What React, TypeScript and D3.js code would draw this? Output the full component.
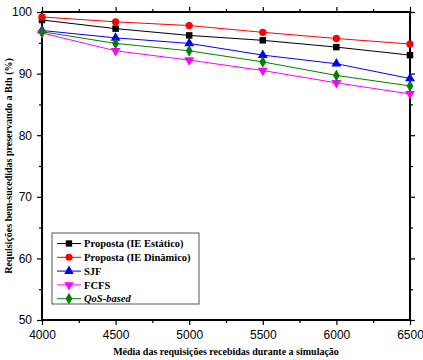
import React, { useRef, useEffect } from 'react';
import * as d3 from 'd3';

const loads = [4000, 4500, 5000, 5500, 6000, 6500];
const estatico = [98.7, 97.3, 96.2, 95.4, 94.3, 93.0];
const dinamico = [99.2, 98.4, 97.8, 96.7, 95.7, 94.8];
const sjf = [97.0, 95.8, 94.9, 93.0, 91.6, 89.2];
const fcfs = [96.6, 93.7, 92.2, 90.5, 88.5, 86.7];
const qos = [96.8, 94.9, 93.7, 91.9, 89.7, 88.0];
const xTicks = [4000, 4500, 5000, 5500, 6000, 6500];
const yTicks = [50, 60, 70, 80, 90, 100];

const series = [
    { name: 'Proposta (IE Estático)', values: estatico, color: '#000000', symbol: d3.symbolSquare, rot: 0, italic: false },
    { name: 'Proposta (IE Dinâmico)', values: dinamico, color: '#ff0000', symbol: d3.symbolCircle, rot: 0, italic: false },
    { name: 'SJF', values: sjf, color: '#0000ff', symbol: d3.symbolTriangle, rot: 0, italic: false },
    { name: 'FCFS', values: fcfs, color: '#ff00ff', symbol: d3.symbolTriangle, rot: 180, italic: false },
    { name: 'QoS-based', values: qos, color: '#008000', symbol: d3.symbolDiamond, rot: 0, italic: true },
];

const W = 423, H = 360;
const L = 42, R = 410, T = 12, B = 320;

const App = () => {
    const svgRef = useRef(null);

    useEffect(() => {
        const svg = d3.select(svgRef.current);
        svg.selectAll('*').remove();

        const x = d3.scaleLinear().domain([4000, 6500]).range([L, R]);
        const y = d3.scaleLinear().domain([50, 100]).range([B, T]);
        const minorX = d3.range(4250, 6500, 500);
        const minorY = d3.range(55, 100, 10);

        const tickFont = '"Liberation Sans Narrow", "Liberation Sans", Arial, sans-serif';
        const serif = '"Liberation Serif", "Times New Roman", serif';

        // axes: bottom, top, left, right
        const bottom = svg.append('g').attr('transform', `translate(0,${B})`)
            .call(d3.axisBottom(x).tickValues(xTicks).tickSize(5).tickPadding(5).tickFormat(d3.format('d')));
        bottom.selectAll('text').attr('font-size', 12).attr('font-family', tickFont).attr('fill', '#000');
        svg.append('g').attr('transform', `translate(0,${B})`)
            .call(d3.axisBottom(x).tickValues(minorX).tickSize(3).tickFormat(() => ''));

        svg.append('g').attr('transform', `translate(0,${T})`)
            .call(d3.axisTop(x).tickValues(xTicks).tickSize(5).tickFormat(() => ''));
        svg.append('g').attr('transform', `translate(0,${T})`)
            .call(d3.axisTop(x).tickValues(minorX).tickSize(3).tickFormat(() => ''));

        const left = svg.append('g').attr('transform', `translate(${L},0)`)
            .call(d3.axisLeft(y).tickValues(yTicks).tickSize(5).tickPadding(5));
        left.selectAll('text').attr('font-size', 12).attr('font-family', tickFont).attr('fill', '#000');
        svg.append('g').attr('transform', `translate(${L},0)`)
            .call(d3.axisLeft(y).tickValues(minorY).tickSize(3).tickFormat(() => ''));

        svg.append('g').attr('transform', `translate(${R},0)`)
            .call(d3.axisRight(y).tickValues(yTicks).tickSize(5).tickFormat(() => ''));
        svg.append('g').attr('transform', `translate(${R},0)`)
            .call(d3.axisRight(y).tickValues(minorY).tickSize(3).tickFormat(() => ''));

        svg.selectAll('.domain').attr('stroke', '#000').attr('stroke-width', 2).attr('d', null);
        svg.selectAll('.tick line').attr('stroke', '#000').attr('stroke-width', 1.2);

        svg.append('rect')
            .attr('x', L).attr('y', T).attr('width', R - L).attr('height', B - T)
            .attr('fill', 'none').attr('stroke', '#000').attr('stroke-width', 2);

        const line = d3.line<number>().x((d, i) => x(loads[i])).y(d => y(d));

        series.forEach(s => {
            svg.append('path').datum(s.values)
                .attr('d', line).attr('fill', 'none')
                .attr('stroke', s.color).attr('stroke-width', 1);
            svg.append('g').selectAll('path')
                .data(s.values).enter().append('path')
                .attr('d', d3.symbol().type(s.symbol).size(s.symbol === d3.symbolDiamond ? 40 : 42))
                .attr('transform', (d, i) => `translate(${x(loads[i])},${y(d)}) rotate(${s.rot})`)
                .attr('fill', s.color);
        });

        // legend
        const lg = svg.append('g');
        lg.append('rect').attr('x', 52).attr('y', 233).attr('width', 147).attr('height', 71)
            .attr('fill', '#fff').attr('stroke', '#555').attr('stroke-width', 1);
        series.forEach((s, i) => {
            const ly = 243.5 + i * 13.8;
            lg.append('line').attr('x1', 57).attr('x2', 81).attr('y1', ly).attr('y2', ly)
                .attr('stroke', s.color).attr('stroke-width', 1);
            lg.append('path')
                .attr('d', d3.symbol().type(s.symbol).size(40))
                .attr('transform', `translate(69,${ly}) rotate(${s.rot})`)
                .attr('fill', s.color);
            lg.append('text').attr('x', 84).attr('y', ly).attr('dy', '0.35em')
                .attr('font-family', serif).attr('font-weight', 'bold')
                .attr('font-style', s.italic ? 'italic' : 'normal')
                .attr('font-size', 10.5).text(s.name);
        });

        svg.append('text')
            .attr('x', (L + R) / 2).attr('y', 355).attr('text-anchor', 'middle')
            .attr('font-family', serif).attr('font-weight', 'bold').attr('font-size', 10)
            .text('Média das requisições recebidas durante a simulação');

        svg.append('text')
            .attr('transform', `translate(12,${(T + B) / 2}) rotate(-90)`)
            .attr('text-anchor', 'middle')
            .attr('font-family', serif).attr('font-weight', 'bold').attr('font-size', 10)
            .text('Requisições bem-sucedidas preservando a Bth (%)');
    }, []);

    return (
        <svg ref={svgRef} width={W} height={H}
            style={{ position: 'absolute', left: 0, top: 0, background: '#fff' }} />
    );
};

export default App;
